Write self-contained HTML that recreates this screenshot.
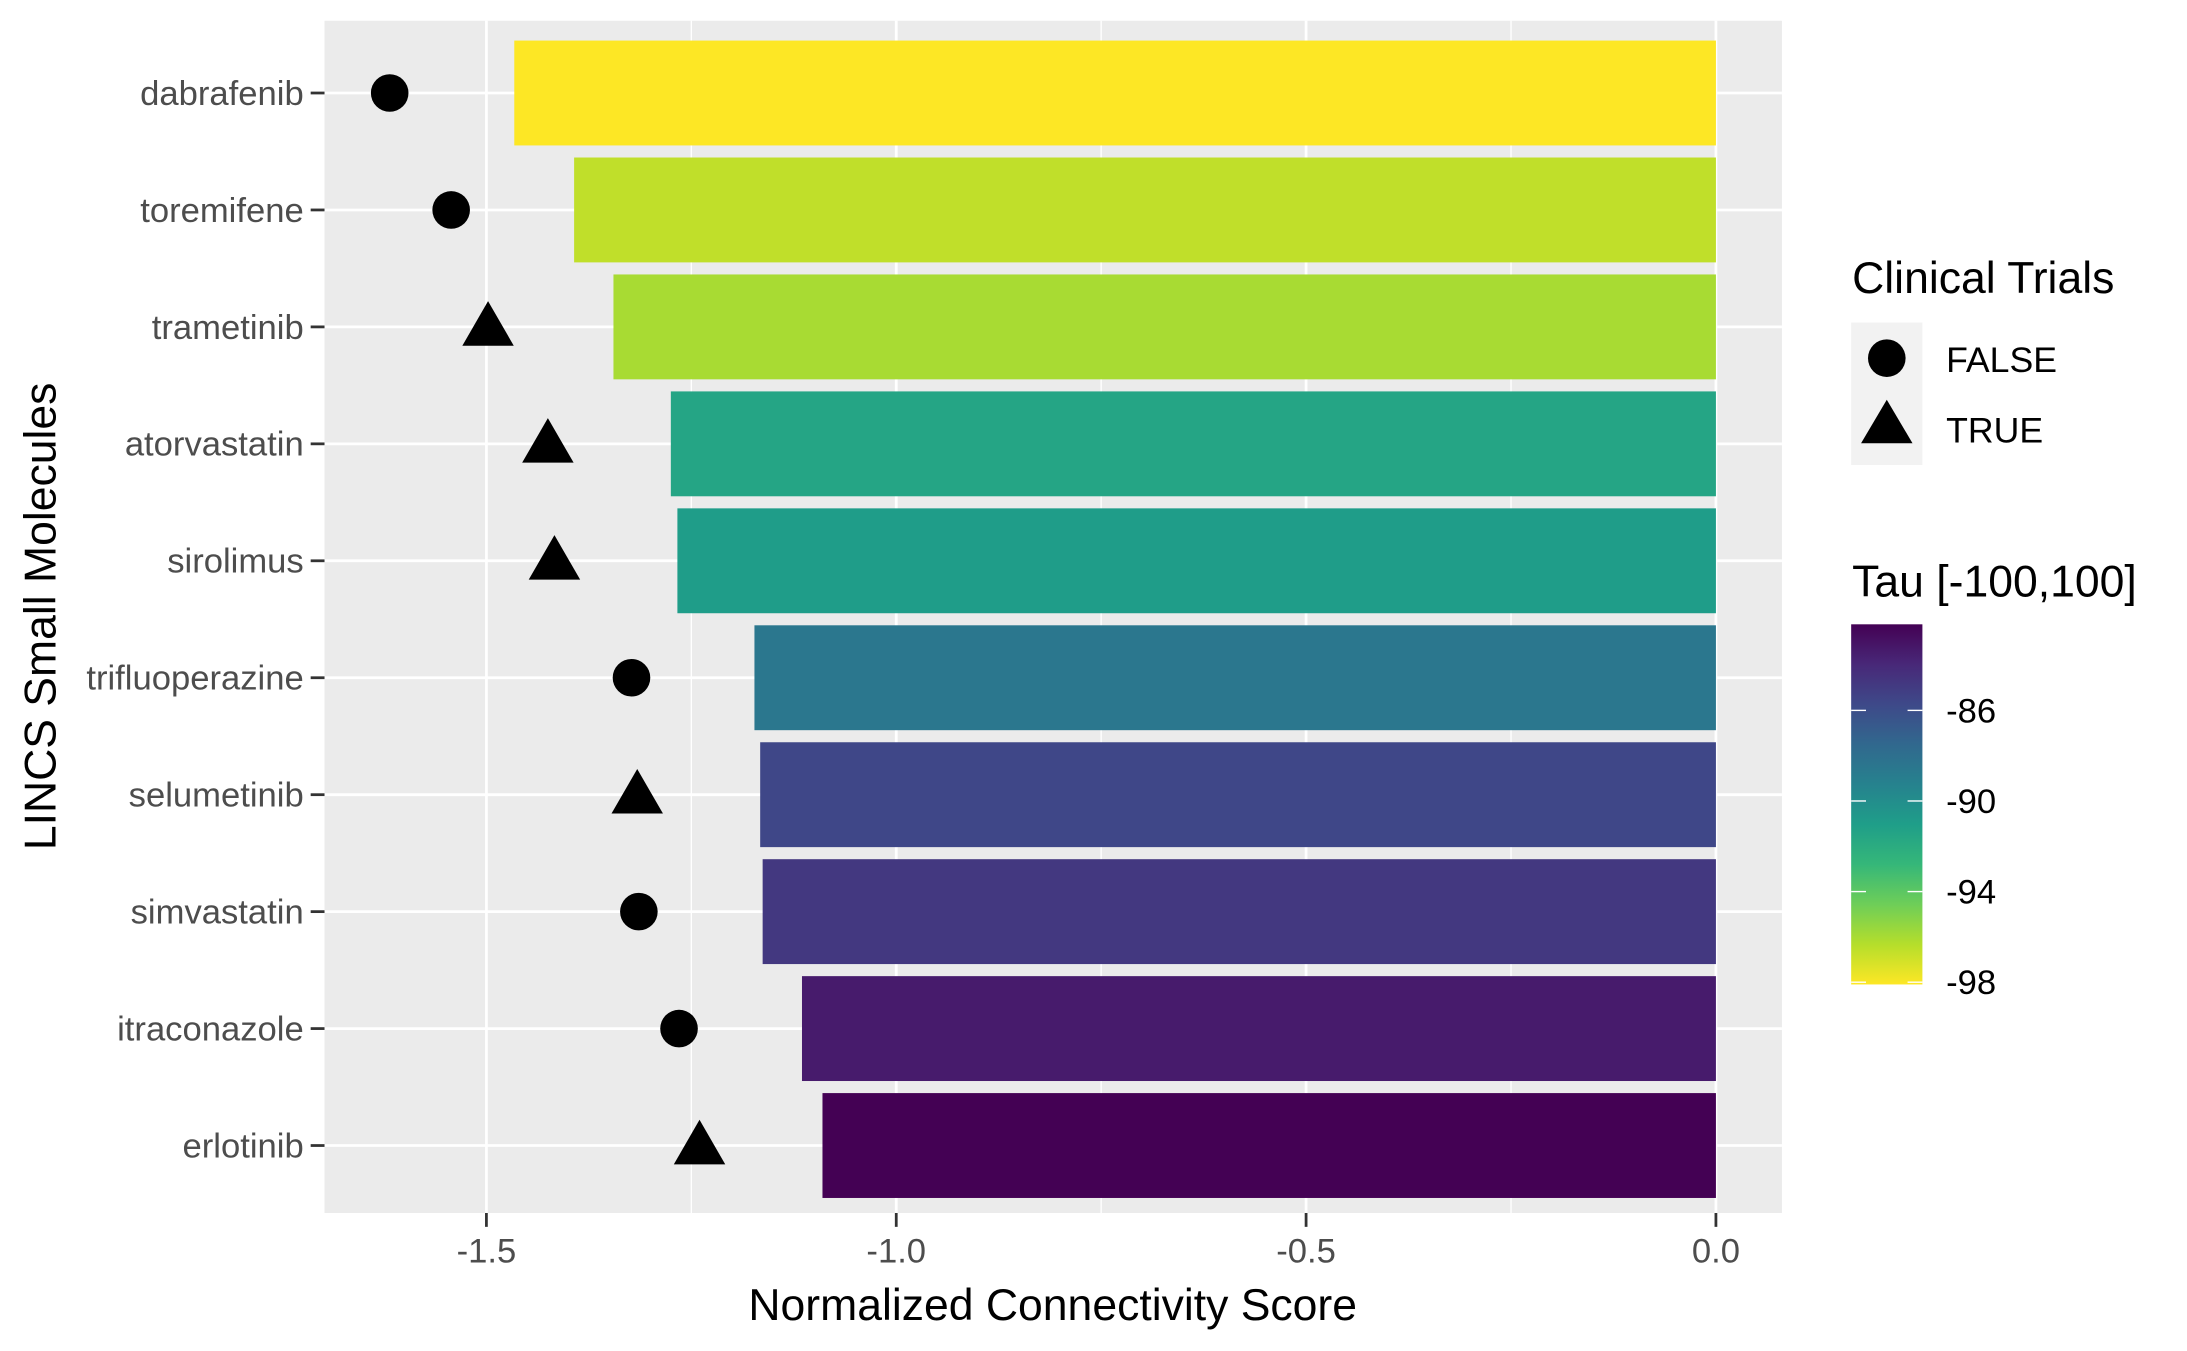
<!DOCTYPE html>
<html><head><meta charset="utf-8"><style>
html,body{margin:0;padding:0;background:#fff;}
svg{display:block;font-family:"Liberation Sans",Arial,sans-serif;}
</style></head><body>
<svg id="chart" width="2187" height="1351" viewBox="0 0 2187 1351" xmlns="http://www.w3.org/2000/svg">
<rect x="0" y="0" width="2187" height="1351" fill="#fff"/>
<g transform="scale(0.9894)">
<rect x="328" y="21" width="1473" height="1205" fill="#ebebeb"/>
<g id="grid"></g><g id="bars"></g><g id="points"></g><g id="yaxis"></g><g id="xaxis"></g>
<text x="1064" y="1334" font-size="45" text-anchor="middle" fill="#000">Normalized Connectivity Score</text>
<text transform="translate(56,623) rotate(-90)" font-size="45" text-anchor="middle" fill="#000">LINCS Small Molecules</text>
<g transform="translate(20,0)">
<g>
<text x="1852" y="296" font-size="45" fill="#000">Clinical Trials</text>
<rect x="1851" y="326" width="72" height="144" fill="#f2f2f2"/>
<ellipse cx="1887" cy="362" rx="19" ry="19" fill="#000"/>
<polygon points="1887,404 1913,448 1861,448" fill="#000"/>
<text x="1947" y="376" font-size="36" fill="#000">FALSE</text>
<text x="1947" y="447" font-size="36" fill="#000">TRUE</text>
</g>
<g>
<text x="1852" y="603" font-size="45" fill="#000">Tau [-100,100]</text>
<defs><linearGradient id="vir" x1="0" y1="1" x2="0" y2="0"></linearGradient></defs>
<rect id="cbar" x="1851" y="631" width="72" height="364" fill="url(#vir)"/>
<g id="cticks"></g>
</g>
</g>
</g>
</svg>
<script>
const molecules = ["dabrafenib","toremifene","trametinib","atorvastatin","sirolimus","trifluoperazine","selumetinib","simvastatin","itraconazole","erlotinib"];
const scores = [-1.466,-1.393,-1.345,-1.275,-1.267,-1.173,-1.166,-1.163,-1.115,-1.090];
const pointScores = [-1.618,-1.543,-1.498,-1.425,-1.417,-1.323,-1.316,-1.314,-1.265,-1.240];
const clinical = [false,false,true,true,true,false,true,false,false,true];
const tau = [-98.1,-96.6,-96.0,-91.5,-91.0,-88.5,-85.6,-84.8,-83.4,-82.2];
const xTicks = [-1.5,-1.0,-0.5,0.0];
const xTickLabels = ["-1.5","-1.0","-0.5","0.0"];
const xMinor = [-1.75,-1.25,-0.75,-0.25];
const tauTicks = [-86,-90,-94,-98];

const NS="http://www.w3.org/2000/svg";
const X0=328,X1=1801,Y0=21,Y1=1226;
const dMin=-1.6975,dMax=0.0805;
const x=v=>X0+(v-dMin)/(dMax-dMin)*(X1-X0);
const yTop=94,yStep=118.2;
const y=i=>yTop+i*yStep;
const tMin=-98.1,tMax=-82.2;
const viridis=["#fde725","#b5de2b","#6ece58","#35b779","#1f9e89","#26828e","#31688e","#3e4989","#482878","#440154"];
function hex(c){return [1,3,5].map(i=>parseInt(c.substr(i,2),16));}
function col(t){let f=(t-tMin)/(tMax-tMin);f=Math.max(0,Math.min(1,f));const p=f*(viridis.length-1);const i=Math.min(Math.floor(p),viridis.length-2);const r=p-i;const a=hex(viridis[i]),b=hex(viridis[i+1]);return "rgb("+a.map((v,k)=>Math.round(v+(b[k]-v)*r)).join(",")+")";}
function mk(tag,attrs,parent){const e=document.createElementNS(NS,tag);for(const k in attrs)e.setAttribute(k,attrs[k]);parent.appendChild(e);return e;}
const grid=document.getElementById('grid');
xMinor.forEach(v=>{const l=mk('line',{x1:x(v),x2:x(v),y1:Y0,y2:Y1,stroke:'#fff','stroke-width':1.4},grid);

});
xTicks.forEach(v=>{const l=mk('line',{x1:x(v),x2:x(v),y1:Y0,y2:Y1,stroke:'#fff','stroke-width':2.8},grid);

});
molecules.forEach((m,i)=>{const l=mk('line',{x1:X0,x2:X1,y1:y(i),y2:y(i),stroke:'#fff','stroke-width':2.8},grid);

});
const bars=document.getElementById('bars'),pts=document.getElementById('points'),ya=document.getElementById('yaxis'),xa=document.getElementById('xaxis');
const bh=106;
molecules.forEach((m,i)=>{
 const b=mk('rect',{x:x(scores[i]),y:y(i)-bh/2,width:x(0)-x(scores[i]),height:bh,fill:col(tau[i])},bars);
 
 
 const px=x(pointScores[i]),py=y(i);
 let p;
 if(clinical[i]){p=mk('polygon',{points:`${px},${py-26} ${px+26},${py+19} ${px-26},${py+19}`,fill:'#000'},pts);}
 else{p=mk('circle',{cx:px,cy:py,r:19,fill:'#000'},pts);}
 
 
 const tk=mk('line',{x1:314,x2:328,y1:y(i),y2:y(i),stroke:'#333','stroke-width':2.8},ya);
 
 
 const t=mk('text',{x:307,y:y(i)+12,'font-size':35,'text-anchor':'end',fill:'#4d4d4d'},ya);
 t.textContent=m;
 
 
});
xTicks.forEach((v,i)=>{
 const tk=mk('line',{x1:x(v),x2:x(v),y1:Y1,y2:Y1+14,stroke:'#333','stroke-width':2.8},xa);
 
 
 const t=mk('text',{x:x(v),y:1276,'font-size':35,'text-anchor':'middle',fill:'#4d4d4d'},xa);
 t.textContent=xTickLabels[i];
 
 
});
const grad=document.getElementById('vir');
viridis.forEach((c,i)=>{mk('stop',{offset:(i/(viridis.length-1)),'stop-color':c},grad);});
const CB0=631,CB1=995;
const cy=t=>CB1-(t-tMin)/(tMax-tMin)*(CB1-CB0);
const ct=document.getElementById('cticks');
tauTicks.forEach(t=>{
 const a=mk('line',{x1:1851,x2:1866,y1:cy(t),y2:cy(t),stroke:'#fff','stroke-width':1.4},ct);
 
 
 const b=mk('line',{x1:1908,x2:1923,y1:cy(t),y2:cy(t),stroke:'#fff','stroke-width':1.4},ct);
 
 
 const tx=mk('text',{x:1947,y:cy(t)+12,'font-size':35,fill:'#000'},ct);
 tx.textContent=String(t);
 
 
});
</script>
</body></html>
